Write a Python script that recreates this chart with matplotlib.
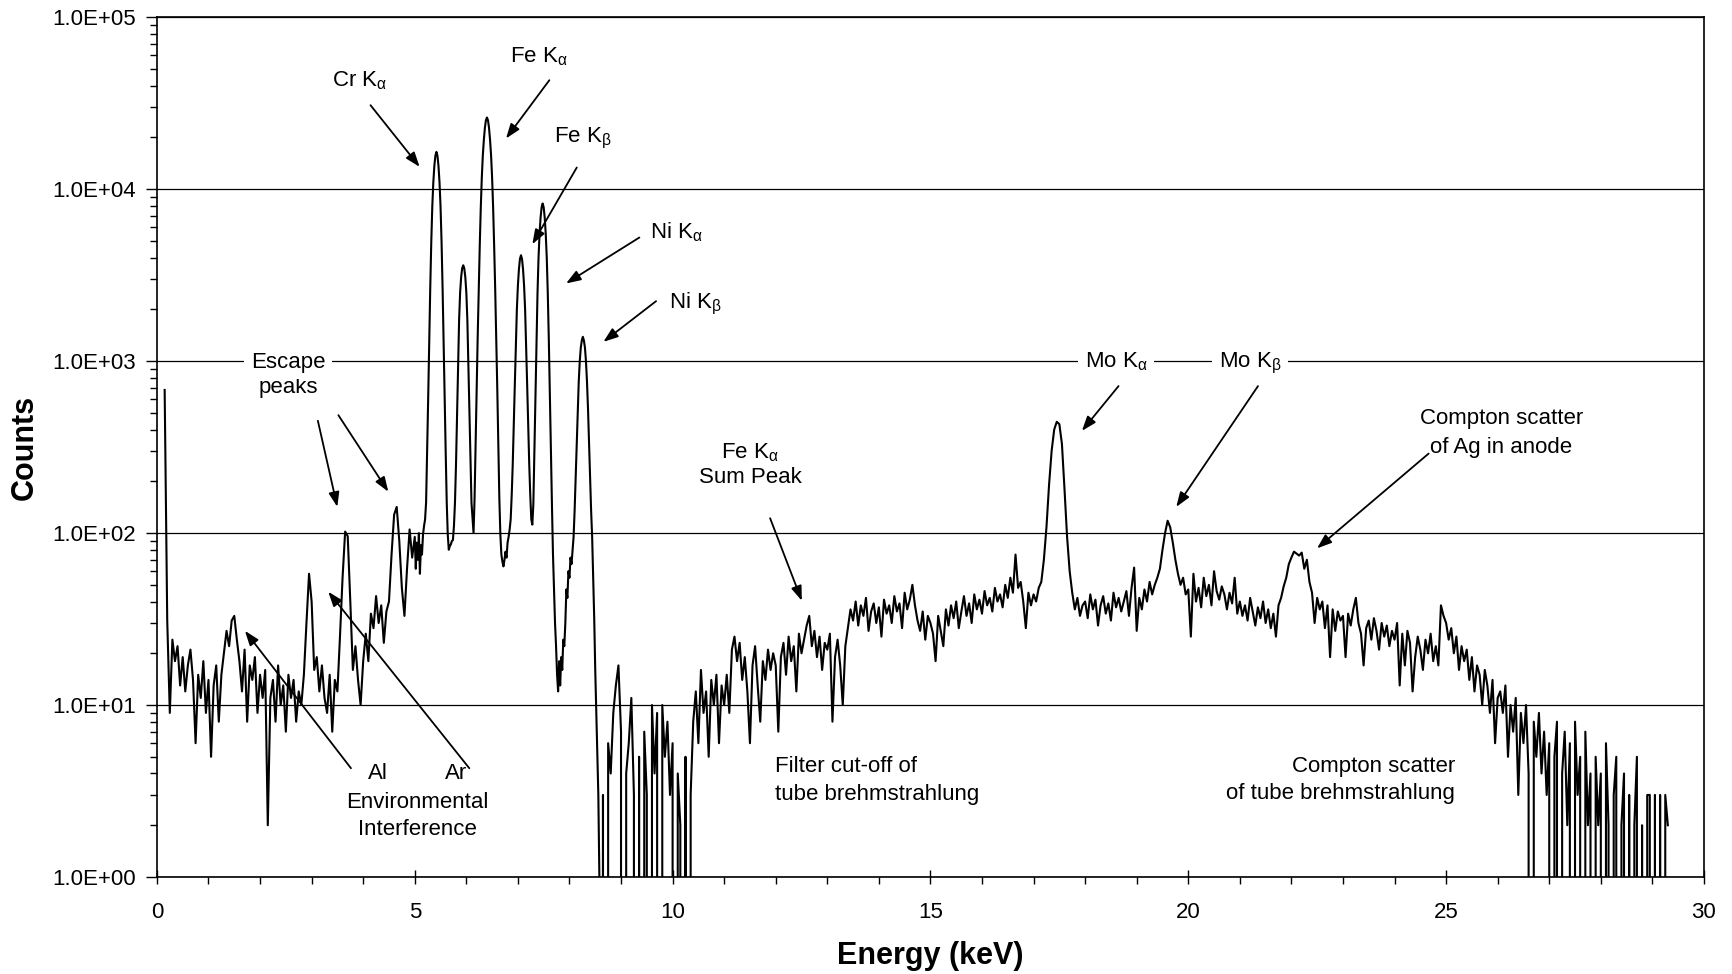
import numpy as np
import matplotlib
matplotlib.use("Agg")
import matplotlib.pyplot as plt
from matplotlib.ticker import MultipleLocator, LogLocator, FuncFormatter, NullFormatter

plt.rcParams['font.family'] = ['Liberation Sans', 'DejaVu Sans']
plt.rcParams['mathtext.fontset'] = 'custom'
plt.rcParams['mathtext.rm'] = 'Liberation Sans'
plt.rcParams['mathtext.it'] = 'Liberation Sans:italic'
plt.rcParams['mathtext.default'] = 'regular'

nan = np.nan

# spectrum, three stretches with their own channel width
# 0.00 - 4.95 keV, 0.05 keV channels
low_start, low_step = 0.0, 0.05
low_counts = [
    nan, nan, nan, 680, 31, 9, 24, 18, 22, 13, 19, 12, 17, 21, 14, 6, 15, 11, 18, 9,
    14, 5, 13, 17, 8, 15, 20, 27, 22, 31, 33, 24, 18, 12, 21, 8, 17, 14, 19, 9,
    15, 11, 16, 2, 11, 14, 8, 17, 10, 13, 7, 15, 11, 14, 8, 12, 10, 15, 30, 58,
    40, 16, 19, 12, 17, 11, 9, 15, 7, 14, 12, 25, 55, 102, 96, 40, 16, 22, 14, 10,
    18, 26, 18, 34, 28, 43, 30, 38, 23, 35, 40, 75, 128, 142, 90, 48, 33, 62, 105, 72,
]

# 5.00 - 8.60 keV (Cr, Fe, Ni lines), 0.02 keV channels
peak_start, peak_step = 5.0, 0.02
peak_counts = [
    95, 62, 88, 70, 100, 58, 85, 75, 98, 110,
    120, 151, 295, 603, 1260, 2630, 4900, 7940, 10960, 13650,
    15670, 16480, 15670, 13650, 10960, 7940, 4900, 2630, 1260, 603,
    295, 151, 98, 80, 84, 86, 90, 91, 110, 151,
    251, 479, 933, 1740, 2510, 3090, 3470, 3610, 3470, 3090,
    2510, 1740, 933, 479, 251, 150, 122, 100, 160, 330,
    700, 1370, 2610, 4650, 7760, 11670, 15740, 19360, 22750, 25180,
    26120, 25180, 22750, 19360, 15740, 11670, 7760, 4650, 2610, 1370,
    700, 330, 160, 98, 75, 68, 64, 70, 78, 72,
    88, 95, 105, 120, 166, 251, 417, 724, 1230, 1995,
    2750, 3420, 3930, 4130, 3930, 3420, 2750, 1995, 1230, 724,
    417, 251, 166, 120, 112, 148, 302, 631, 1318, 2455,
    3980, 5500, 6840, 7850, 8260, 7850, 6840, 5500, 3980, 2455,
    1318, 631, 302, 148, 76, 48, 30, 22, 15, 12,
    18, 13, 19, 16, 24, 22, 30, 47, 42, 60,
    55, 72, 66, 80, 95, 135, 209, 331, 525, 760,
    1000, 1200, 1320, 1385, 1320, 1200, 1000, 760, 525, 331,
    209, 135, 95, 56, 32, 16, 9, 5, 3, 1,
    0,
]

# 8.65 - 29.30 keV, 0.05 keV channels
high_start, high_step = 8.65, 0.05
high_counts = [
    3, 0, 6, 4, 9, 13, 17,
    7, 0, 4, 6, 11, 3, 0, 5, 0, 7, 3, 0, 10, 4, 9, 0, 10, 5, 8, 3,
    6, 0, 4, 2, 0, 5, 0, 3, 8, 12, 6, 16, 9, 12, 5, 14, 10, 15, 6, 13,
    10, 15, 9, 21, 25, 18, 23, 14, 19, 12, 6, 17, 22, 13, 8, 18, 14, 21, 16, 20,
    17, 7, 19, 23, 15, 25, 18, 22, 12, 26, 20, 24, 29, 33, 22, 27, 19, 25, 16, 23,
    21, 26, 8, 19, 24, 17, 10, 22, 28, 36, 31, 40, 29, 38, 33, 42, 27, 35, 39, 30,
    37, 25, 41, 34, 38, 30, 43, 35, 39, 28, 45, 36, 41, 50, 38, 31, 27, 35, 24, 33,
    30, 26, 18, 33, 27, 22, 36, 29, 38, 32, 40, 28, 35, 43, 33, 39, 30, 44, 36, 41,
    34, 46, 38, 42, 35, 48, 40, 44, 37, 50, 42, 55, 45, 75, 48, 52, 40, 28, 45, 38,
    44, 40, 48, 52, 70, 108, 190, 300, 400, 444, 430, 330, 180, 95, 60, 45, 36, 42, 33, 38,
    40, 32, 44, 36, 41, 29, 38, 43, 34, 39, 31, 45, 37, 42, 35, 40, 46, 33, 48, 63,
    27, 42, 36, 47, 40, 52, 44, 50, 55, 62, 80, 100, 118, 108, 88, 70, 58, 50, 55, 44,
    47, 25, 58, 40, 48, 37, 55, 43, 50, 38, 60, 46, 41, 49, 44, 36, 45, 39, 55, 34,
    40, 33, 38, 31, 42, 35, 29, 37, 32, 40, 30, 36, 28, 34, 25, 38, 42, 49, 55, 66,
    72, 78, 76, 74, 77, 62, 70, 52, 45, 30, 42, 36, 40, 28, 38, 19, 36, 27, 35, 31,
    33, 19, 34, 29, 36, 42, 30, 26, 17, 28, 31, 24, 32, 27, 21, 30, 25, 29, 22, 27,
    24, 30, 13, 26, 17, 27, 23, 12, 19, 25, 21, 16, 24, 20, 26, 18, 22, 17, 38, 33,
    30, 24, 28, 20, 25, 16, 22, 18, 21, 14, 19, 12, 17, 15, 10, 16, 13, 9, 14, 6,
    11, 12, 9, 13, 5, 10, 7, 11, 3, 9, 6, 10, 4, 0, 8, 5, 9, 4, 7, 3,
    6, 0, 5, 8, 0, 4, 7, 2, 6, 0, 8, 3, 5, 0, 7, 2, 4, 0, 5, 2,
    4, 0, 6, 2, 0, 3, 5, 0, 2, 4, 0, 3, 0, 2, 5, 0, 2, 0, 3, 3,
    0, 3, 0, 3, 0, 3, 2,
]

energy = np.concatenate([
    low_start + low_step * np.arange(len(low_counts)),
    peak_start + peak_step * np.arange(len(peak_counts)),
    high_start + high_step * np.arange(len(high_counts)),
])
counts = np.array(low_counts + peak_counts + high_counts, dtype=float)

fig = plt.figure(figsize=(17.32, 9.74), dpi=100)
ax = fig.add_axes([0.0906, 0.0996, 0.8932, 0.8827])
ax.set_yscale('log')
ax.plot(energy, counts, color='black', lw=1.5, zorder=3)
ax.set_xlim(0, 30)
ax.set_ylim(1, 1e5)

ax.yaxis.grid(True, which='major', color='black', lw=0.9, zorder=0)
ax.set_axisbelow(True)
for s in ax.spines.values():
    s.set_linewidth(1.2)

ax.xaxis.set_major_locator(MultipleLocator(5))
ax.xaxis.set_minor_locator(MultipleLocator(1))
ax.yaxis.set_major_locator(LogLocator(base=10))
ax.yaxis.set_minor_locator(LogLocator(base=10, subs=np.arange(2, 10)))
ax.yaxis.set_minor_formatter(NullFormatter())
ax.yaxis.set_major_formatter(FuncFormatter(lambda v, p: f"{v:.1E}"))
ax.tick_params(axis='x', which='major', direction='inout', length=10, width=1, labelsize=16, pad=13)
ax.tick_params(axis='x', which='minor', direction='out', length=5, width=1)
ax.tick_params(axis='y', which='major', direction='out', length=8, width=1, labelsize=16, pad=7)
ax.tick_params(axis='y', which='minor', direction='out', length=5, width=1)

fig.text(25 / 1732, 1 - 447 / 974, 'Counts', rotation=90, ha='center', va='center',
         fontsize=22, fontweight='bold')
fig.text(930 / 1732, 1 - 956 / 974, 'Energy (keV)', ha='center', va='center',
         fontsize=22, fontweight='bold')

# labels: text, energy, log10(counts) of baseline, alignment
labels = [
    (r'Cr K$_\alpha$', 3.94, 4.595, 'center'),
    (r'Fe K$_\alpha$', 7.41, 4.74, 'center'),
    (r'Fe K$_\beta$', 8.25, 4.275, 'center'),
    (r'Ni K$_\alpha$', 10.07, 3.713, 'center'),
    (r'Ni K$_\beta$', 10.44, 3.306, 'center'),
    ('peaks', 2.54, 2.816, 'center'),
    (r'Fe K$_\alpha$', 11.50, 2.434, 'center'),
    ('Sum Peak', 11.50, 2.289, 'center'),
    ('Compton scatter', 26.07, 2.634, 'center'),
    ('of Ag in anode', 26.07, 2.467, 'center'),
    ('Al', 4.29, 0.568, 'center'),
    ('Ar', 5.81, 0.568, 'center'),
    ('Environmental', 5.05, 0.403, 'center'),
    ('Interference', 5.05, 0.244, 'center'),
    ('Filter cut-off of', 11.99, 0.612, 'left'),
    ('tube brehmstrahlung', 11.99, 0.448, 'left'),
    ('Compton scatter', 25.17, 0.612, 'right'),
    ('of tube brehmstrahlung', 25.17, 0.453, 'right'),
]
for txt, xe, ly, ha in labels:
    ax.text(xe, 10 ** ly, txt, ha=ha, va='baseline', fontsize=16, zorder=5)

# labels sitting on the 1.0E+03 grid line
for txt, xe in [('Escape', 2.54), (r'Mo K$_\alpha$', 18.60), (r'Mo K$_\beta$', 21.20)]:
    ax.text(xe, 10 ** 2.963, txt, ha='center', va='baseline', fontsize=16, zorder=5,
            bbox=dict(facecolor='white', edgecolor='none', pad=5))

# arrows: tail -> head
arrows = [
    ((4.142, 30790), (5.094, 13490)),
    ((7.610, 43040), (6.770, 19720)),
    ((8.142, 13370), (7.280, 4786)),
    ((9.356, 5236), (7.934, 2831)),
    ((9.680, 2233), (8.658, 1295)),
    ((3.121, 450), (3.498, 142)),
    ((3.519, 485), (4.487, 174)),
    ((3.763, 4.29), (1.707, 27.0)),
    ((6.058, 4.29), (3.323, 45.6)),
    ((18.648, 716), (17.938, 393)),
    ((21.352, 716), (19.767, 142)),
    ((24.661, 290), (22.497, 81.5)),
    ((11.891, 122), (12.506, 40.4)),
]
for tail, head in arrows:
    ax.annotate('', xy=head, xytext=tail,
                arrowprops=dict(arrowstyle='-|>,head_length=0.55,head_width=0.2',
                                mutation_scale=16, color='black', lw=1.3,
                                shrinkA=0, shrinkB=0), zorder=6)

fig.savefig('out.png', dpi=100, facecolor='white')
